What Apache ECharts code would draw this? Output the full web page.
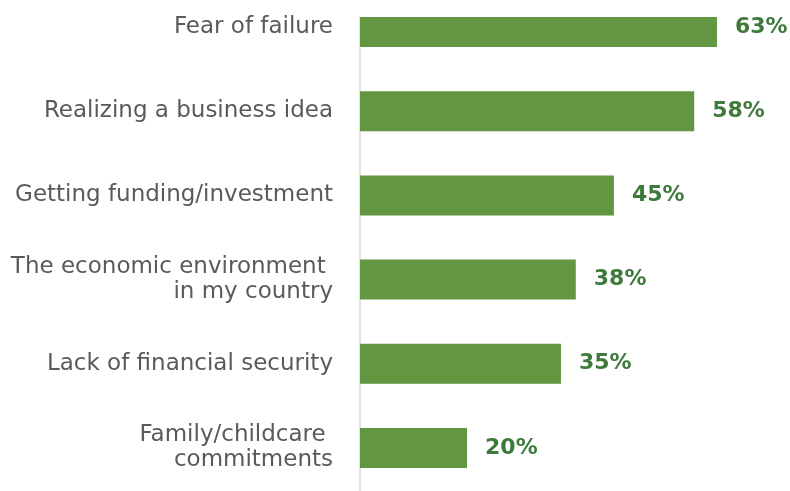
<!DOCTYPE html>
<html>
<head>
<meta charset="utf-8">
<script src="https://cdn.jsdelivr.net/npm/echarts@6/dist/echarts.min.js"></script>
<style>
html,body{margin:0;padding:0;background:#fff;overflow:hidden;}
#wrap{width:790px;height:491px;overflow:hidden;position:relative;}
#chart{width:790px;height:506px;position:absolute;left:0;top:-15px;}
</style>
</head>
<body>
<div id="wrap"><div id="chart"></div></div>
<script>
var categories = [
  "Fear of failure",
  "Realizing a business idea",
  "Getting funding/investment",
  "The economic environment \nin my country",
  "Lack of financial security",
  "Family/childcare \ncommitments"
];
var values = [62.7, 58.7, 44.6, 37.9, 35.3, 18.8];
var valueLabels = ["63%", "58%", "45%", "38%", "35%", "20%"];

var chart = echarts.init(document.getElementById('chart'), null, {renderer: 'canvas'});
chart.setOption({
  animation: false,
  backgroundColor: '#ffffff',
  grid: {left: 360, top: 0, width: 427, height: 505, containLabel: false},
  xAxis: {type: 'value', min: 0, max: 75, show: false},
  yAxis: {
    type: 'category',
    inverse: true,
    data: categories,
    offset: 1,
    axisLine: {show: true, lineStyle: {color: '#e2e2da', width: 2}},
    axisTick: {show: false},
    splitLine: {show: false},
    axisLabel: {
      margin: 26,
      fontFamily: 'DejaVu Sans',
      fontSize: 23,
      lineHeight: 25,
      color: '#5a5a5a',
      align: 'right'
    }
  },
  series: [{
    type: 'bar',
    data: values,
    barWidth: 40,
    itemStyle: {color: '#629641'},
    label: {
      show: true,
      position: 'right',
      distance: 18,
      fontFamily: 'DejaVu Sans',
      fontWeight: 'bold',
      fontSize: 22,
      color: '#3e7a3b',
      formatter: function (p) { return valueLabels[p.dataIndex]; }
    }
  }],
  graphic: [{
    type: 'rect',
    z: 100,
    shape: {x: 340, y: 0, width: 450, height: 32},
    style: {fill: '#ffffff'}
  }]
});
</script>
</body>
</html>
